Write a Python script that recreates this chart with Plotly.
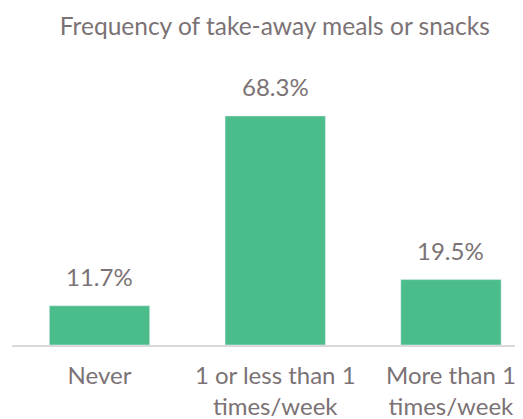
import plotly.graph_objects as go

categories = ["Never", "1 or less than 1<br>times/week", "More than 1<br>times/week"]
values = [11.7, 68.3, 19.5]
labels = ["11.7%", "68.3%", "19.5%"]

bar_color = "#4bbd8a"
text_color = "#7b7275"
font_family = "Lato, 'Open Sans', sans-serif"

fig = go.Figure(go.Bar(x=categories, y=values, marker_color=bar_color, width=0.571,
                       hoverinfo="skip"))

for c, v, l in zip(categories, values, labels):
    fig.add_annotation(x=c, y=v, text=l, showarrow=False, yanchor="bottom", yshift=13,
                       font=dict(size=24, color=text_color, family=font_family))

fig.update_layout(
    width=515, height=411,
    margin=dict(l=4, r=0, t=32, b=74, pad=0),
    paper_bgcolor="white", plot_bgcolor="white",
    title=dict(text="Frequency of take-away meals or snacks", x=0.518, xanchor="center",
               y=0.956, yanchor="middle",
               font=dict(size=24.5, color=text_color, family=font_family)),
    xaxis=dict(range=[-0.498, 2.41], showline=True, linecolor="#d9d9d9", linewidth=2,
               ticks="", ticklabelstandoff=8,
               tickfont=dict(size=24, color=text_color, family=font_family)),
    yaxis=dict(range=[0, 90.96], visible=False),
    showlegend=False,
)

fig.write_html("out.html")
